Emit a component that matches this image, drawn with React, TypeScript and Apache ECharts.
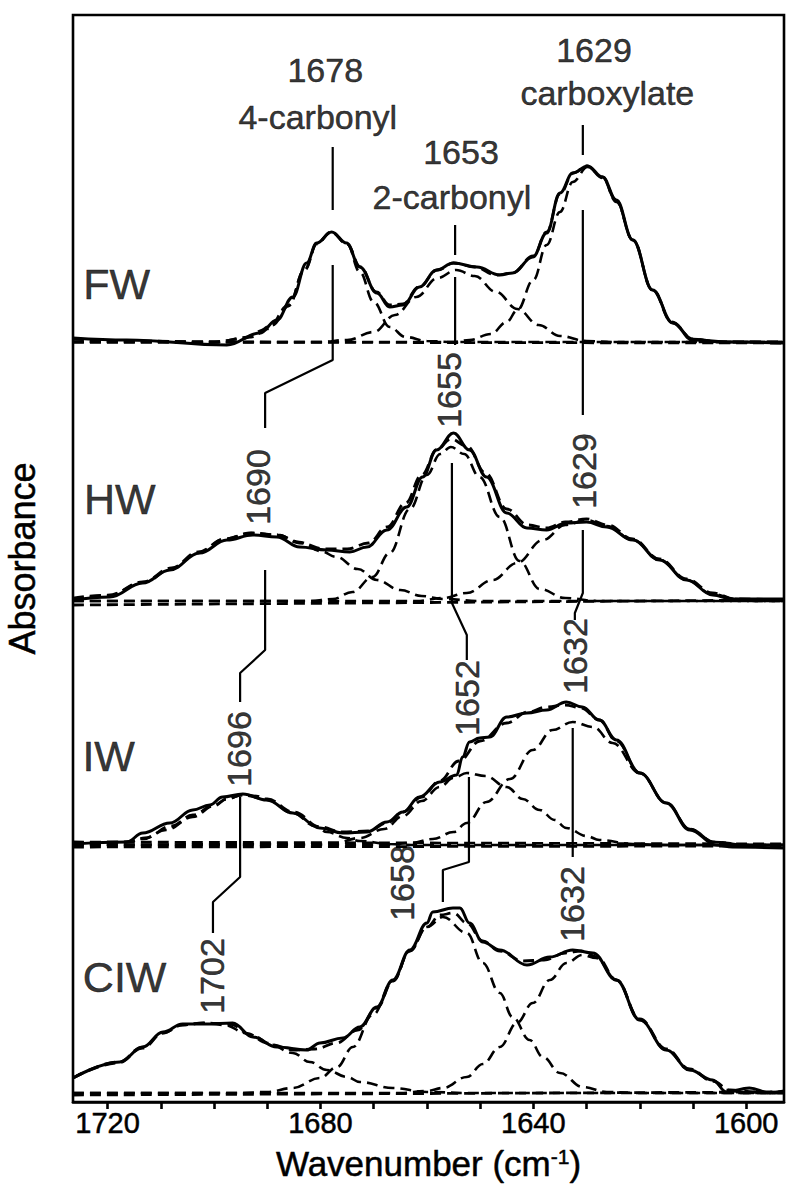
import { useEffect, useRef } from "react";
import * as echarts from "echarts";

// ---------- axis ----------
const xMin = 1592.9;
const xMax = 1726.5;
const xTickValues = [1600, 1610, 1620, 1630, 1640, 1650, 1660, 1670, 1680, 1690, 1700, 1710, 1720];
const xLabelValues = [1600, 1640, 1680, 1720];
const yMax = 10.87;

// vertical offsets of each trace (absorbance units, baseline positions)
const offsetFW = 7.6;
const offsetHW = 5.01;
const offsetIW = 2.57;
const offsetCIW = 0.09;

// ---------- FW ----------
const fwMeasured = [[1726.5,0.04],[1716.4,0.02],[1697.6,-0.03],[1691.4,0.09],[1688.2,0.22],[1685.2,0.45],[1682.6,0.79],[1680.7,0.99],[1677.9,1.10],[1675.1,0.99],[1672.6,0.75],[1669.4,0.49],[1667.0,0.35],[1664.5,0.37],[1661.4,0.55],[1658.2,0.72],[1655.0,0.79],[1650.6,0.75],[1646.3,0.67],[1643.9,0.69],[1640.1,0.85],[1637.5,1.09],[1635.0,1.49],[1632.6,1.69],[1629.8,1.76],[1627.0,1.65],[1624.4,1.42],[1621.3,1.02],[1617.6,0.52],[1613.8,0.19],[1610.1,0.02],[1602.6,0.0],[1592.9,-0.01]];
const fwFit = [[1726.5,0.03],[1715,0.01],[1700,0.0],[1693,0.05],[1689,0.17],[1686,0.36],[1683,0.72],[1680.5,1.0],[1678,1.10],[1675,0.98],[1672.5,0.75],[1669.5,0.50],[1667,0.37],[1664.5,0.38],[1661.5,0.55],[1658,0.72],[1655,0.79],[1651,0.75],[1647,0.67],[1644,0.69],[1640,0.86],[1637.5,1.10],[1635,1.48],[1632.5,1.69],[1630,1.76],[1627,1.65],[1624.5,1.42],[1621.3,1.02],[1617.6,0.52],[1614,0.20],[1610,0.03],[1605,0.0],[1592.9,0.0]];
const fw1678 = [[1726.5,0.0],[1700,0.0],[1695,0.03],[1690,0.13],[1686,0.37],[1683,0.72],[1680.7,0.98],[1678,1.10],[1675,0.98],[1672.6,0.70],[1670,0.40],[1667,0.15],[1664,0.05],[1660,0.01],[1655,0.0],[1592.9,0.0]];
const fw1653 = [[1726.5,0.0],[1680,0.0],[1675,0.02],[1670,0.10],[1666,0.27],[1662,0.45],[1658,0.64],[1654.5,0.72],[1651,0.66],[1647,0.50],[1643,0.33],[1639,0.17],[1635,0.06],[1630,0.01],[1625,0.0],[1592.9,0.0]];
const fw1629 = [[1726.5,0.0],[1655,0.0],[1652,0.02],[1648,0.08],[1645,0.20],[1643,0.32],[1640,0.62],[1637.5,0.97],[1635,1.30],[1632.6,1.60],[1629.8,1.75],[1627,1.64],[1624.4,1.40],[1621.3,1.02],[1617.6,0.52],[1613.8,0.19],[1610,0.03],[1605,0.0],[1592.9,0.0]];
const fwBaseline = [[1726.5,0.0],[1592.9,-0.01]];

// ---------- HW ----------
const hwMeasured = [[1726.5,0.01],[1719.6,0.04],[1713.4,0.18],[1708.3,0.31],[1702.7,0.48],[1697.6,0.61],[1692.7,0.66],[1688.2,0.64],[1683.9,0.54],[1678.8,0.51],[1674.5,0.49],[1671.3,0.54],[1667.5,0.71],[1663.8,0.94],[1660.8,1.24],[1658.2,1.51],[1655.0,1.68],[1652.0,1.51],[1648.8,1.24],[1645.0,0.88],[1641.2,0.73],[1637.5,0.71],[1633.8,0.78],[1630.0,0.79],[1626.2,0.74],[1621.3,0.61],[1616.3,0.41],[1611.2,0.21],[1606.3,0.06],[1602.6,0.02],[1592.9,0.02]];
const hwFit = [[1726.5,0.02],[1720,0.05],[1713.4,0.19],[1708,0.33],[1703,0.49],[1698,0.62],[1693,0.68],[1688,0.66],[1684,0.58],[1679,0.52],[1675,0.52],[1671,0.58],[1667.5,0.74],[1664,0.98],[1661,1.26],[1658,1.52],[1655.5,1.62],[1652.5,1.55],[1649,1.28],[1645,0.92],[1641,0.76],[1637.5,0.73],[1634,0.79],[1630,0.82],[1626,0.76],[1621.3,0.62],[1616.3,0.42],[1611.2,0.22],[1606.3,0.08],[1602,0.02],[1592.9,0.01]];
const hw1690 = [[1726.5,0.03],[1720,0.06],[1713,0.19],[1708,0.32],[1703,0.48],[1698,0.62],[1693,0.68],[1688,0.66],[1684,0.59],[1680,0.50],[1677,0.44],[1673,0.32],[1669.4,0.21],[1665,0.11],[1661,0.05],[1657,0.02],[1650,0.0],[1592.9,0.0]];
const hw1655 = [[1726.5,0.0],[1682,0.0],[1677.7,0.02],[1674,0.09],[1670.2,0.24],[1667,0.48],[1663.2,0.92],[1660,1.26],[1657.5,1.47],[1655.5,1.54],[1653,1.47],[1650.1,1.24],[1646.3,0.84],[1642.6,0.40],[1638.8,0.12],[1634,0.03],[1628,0.0],[1592.9,0.0]];
const hw1629 = [[1726.5,0.0],[1662,0.0],[1657,0.03],[1652.5,0.08],[1647.6,0.21],[1643.1,0.38],[1638.2,0.61],[1634,0.76],[1630,0.81],[1626.2,0.75],[1621.3,0.61],[1616.3,0.41],[1611.2,0.21],[1606.3,0.07],[1602,0.02],[1598,0.0],[1592.9,0.0]];
const hwBaseline = [[1726.5,-0.04],[1592.9,0.01]];

// ---------- IW ----------
const iwMeasured = [[1726.5,0.01],[1716.4,0.03],[1713.4,0.12],[1708.3,0.22],[1704.0,0.35],[1700.8,0.40],[1698.4,0.48],[1694.6,0.51],[1690.1,0.45],[1685.2,0.32],[1680.1,0.17],[1675.8,0.12],[1671.3,0.13],[1667.5,0.23],[1664.5,0.33],[1661.4,0.48],[1657.6,0.63],[1654.4,0.70],[1653.3,0.88],[1652.0,1.03],[1650.1,1.07],[1648.2,1.08],[1645.0,1.28],[1641.2,1.32],[1637.5,1.35],[1633.8,1.43],[1630.8,1.38],[1627.6,1.25],[1624.4,1.05],[1620.0,0.72],[1615.0,0.42],[1610.6,0.15],[1605.6,0.0],[1602.6,-0.02],[1592.9,-0.03]];
const iwFit = [[1726.5,0.02],[1716,0.03],[1713,0.07],[1708,0.19],[1704,0.30],[1700,0.40],[1697.6,0.46],[1694.8,0.50],[1690,0.46],[1685,0.33],[1680,0.18],[1676,0.13],[1671,0.14],[1667.5,0.22],[1664.5,0.33],[1661,0.48],[1657.6,0.64],[1654,0.84],[1650,1.04],[1645,1.22],[1641,1.33],[1637.5,1.38],[1634,1.40],[1631,1.37],[1627.6,1.25],[1624.4,1.04],[1620,0.72],[1615,0.42],[1610.6,0.16],[1606,0.03],[1600,0.0],[1592.9,0.0]];
const iw1696 = [[1726.5,0.01],[1718,0.02],[1713.4,0.06],[1709,0.15],[1704,0.28],[1700,0.39],[1697.6,0.46],[1694.8,0.50],[1692,0.49],[1690,0.45],[1685.2,0.32],[1681,0.19],[1678.8,0.13],[1675,0.07],[1672.6,0.04],[1667,0.01],[1662,0.0],[1592.9,0.0]];
const iw1652 = [[1726.5,0.0],[1678,0.01],[1672.6,0.07],[1668,0.16],[1664.5,0.29],[1661,0.44],[1657.6,0.58],[1655,0.67],[1652.5,0.72],[1649,0.69],[1645,0.58],[1642,0.46],[1638.8,0.35],[1636,0.25],[1633.8,0.17],[1630,0.09],[1627.6,0.05],[1621.3,0.01],[1615,0.0],[1592.9,0.0]];
const iw1632 = [[1726.5,0.0],[1668,0.0],[1663,0.02],[1658.9,0.06],[1655,0.13],[1652.5,0.22],[1648.8,0.43],[1644.4,0.66],[1640.1,0.95],[1636.4,1.15],[1632.6,1.23],[1628.8,1.18],[1625.1,1.02],[1620,0.72],[1615,0.42],[1610.6,0.16],[1606,0.03],[1600,0.0],[1592.9,0.0]];
const iwBaselineA = [[1726.5,0.03],[1592.9,0.01]];
const iwBaselineB = [[1726.5,-0.02],[1592.9,-0.01]];

// ---------- CIW ----------
const ciwMeasured = [[1726.5,0.15],[1717.7,0.31],[1713.4,0.46],[1709.6,0.61],[1705.9,0.69],[1701.4,0.69],[1696.5,0.70],[1692.7,0.56],[1688.2,0.46],[1682.6,0.43],[1680.1,0.50],[1675.8,0.55],[1672.6,0.66],[1669.4,0.86],[1666.4,1.13],[1663.2,1.43],[1660.0,1.70],[1658.9,1.81],[1655.1,1.85],[1653.8,1.85],[1652.0,1.70],[1649.5,1.51],[1646.3,1.43],[1641.2,1.28],[1636.9,1.36],[1632.6,1.43],[1628.8,1.40],[1624.4,1.13],[1620.0,0.73],[1615.0,0.43],[1610.6,0.23],[1606.3,0.13],[1603.7,0.01],[1599.4,0.05],[1595.6,0.0],[1592.9,0.02]];
const ciwFit = [[1726.5,0.15],[1718,0.30],[1713.4,0.45],[1709.6,0.60],[1706,0.68],[1702,0.70],[1697,0.69],[1693,0.58],[1689,0.48],[1685,0.43],[1681,0.44],[1677,0.50],[1673,0.63],[1669.4,0.85],[1666.4,1.12],[1663.2,1.42],[1660,1.66],[1657.5,1.78],[1655,1.80],[1652.5,1.70],[1649.5,1.52],[1646.3,1.42],[1642,1.32],[1638,1.33],[1634,1.40],[1631,1.42],[1628,1.36],[1624.4,1.13],[1620,0.74],[1615,0.44],[1610.6,0.24],[1606.3,0.12],[1603,0.03],[1598,0.01],[1592.9,0.01]];
const ciw1702 = [[1726.5,0.15],[1718,0.31],[1713.4,0.46],[1709.6,0.60],[1705.9,0.68],[1702,0.70],[1698,0.68],[1694,0.60],[1690,0.50],[1685.2,0.40],[1682,0.31],[1678.8,0.23],[1675,0.16],[1672.6,0.11],[1666.4,0.05],[1660,0.01],[1652,0.0],[1592.9,0.0]];
const ciw1658 = [[1726.5,0.0],[1695,0.0],[1690,0.01],[1685.2,0.05],[1680.1,0.15],[1676.9,0.26],[1673.9,0.46],[1670.2,0.78],[1666.4,1.12],[1663.2,1.42],[1660,1.66],[1657,1.76],[1652.5,1.60],[1649.5,1.30],[1646.3,1.00],[1643.9,0.76],[1640.7,0.53],[1638.2,0.36],[1635,0.20],[1630.7,0.06],[1626.2,0.01],[1620,0.0],[1592.9,0.0]];
const ciw1632 = [[1726.5,0.0],[1665,0.0],[1660,0.02],[1657,0.05],[1652.5,0.16],[1649.5,0.29],[1646.3,0.46],[1643.1,0.70],[1640.1,0.90],[1636.9,1.13],[1633.8,1.30],[1630.8,1.38],[1628.2,1.35],[1624.4,1.13],[1620,0.73],[1615,0.43],[1610.6,0.23],[1606.3,0.12],[1603.7,0.03],[1600,0.0],[1592.9,0.0]];
const ciwBaseline = [[1726.5,-0.02],[1592.9,0.01]];

// ---------- peak leader lines (absolute coordinates) ----------
const leaders = [
  [[1677.7,9.55],[1677.7,8.92]],
  [[1677.7,8.37],[1677.7,7.42],[1690.4,7.09],[1690.4,6.74]],
  [[1654.7,8.77],[1654.7,8.47]],
  [[1654.7,8.25],[1654.7,7.57]],
  [[1630.7,9.77],[1630.7,9.47]],
  [[1630.7,8.92],[1630.7,6.87]],
  [[1690.4,5.32],[1690.4,4.52],[1695.1,4.29],[1695.1,4.00]],
  [[1655.3,6.39],[1655.3,4.99],[1652.5,4.67],[1652.5,4.42]],
  [[1630.7,5.72],[1630.7,5.09],[1632.2,4.89],[1632.2,4.82]],
  [[1695.1,3.05],[1695.1,2.25],[1700.2,2.00],[1700.2,1.69]],
  [[1652.1,3.25],[1652.1,2.40],[1657.0,2.32],[1657.0,2.00]],
  [[1632.6,3.74],[1632.6,2.45]],
];

// ---------- text annotations ----------
const peakTexts = [
  { text: "1678", at: [1679.1, 10.32], rot: 0 },
  { text: "4-carbonyl", at: [1680.5, 9.85], rot: 0 },
  { text: "1653", at: [1653.6, 9.5], rot: 0 },
  { text: "2-carbonyl", at: [1655.3, 9.05], rot: 0 },
  { text: "1629", at: [1628.6, 10.52], rot: 0 },
  { text: "carboxylate", at: [1626.1, 10.09], rot: 0 },
  { text: "1690", at: [1691.7, 6.15], rot: 90 },
  { text: "1655", at: [1655.8, 7.12], rot: 90 },
  { text: "1629", at: [1630.4, 6.31], rot: 90 },
  { text: "1696", at: [1695.3, 3.53], rot: 90 },
  { text: "1652", at: [1652.5, 4.04], rot: 90 },
  { text: "1632", at: [1632.2, 4.46], rot: 90 },
  { text: "1702", at: [1700.3, 1.26], rot: 90 },
  { text: "1658", at: [1664.6, 2.19], rot: 90 },
  { text: "1632", at: [1632.8, 1.98], rot: 90 },
];
const sampleTexts = [
  { text: "FW", at: [1718.3, 8.18] },
  { text: "HW", at: [1717.7, 6.03] },
  { text: "IW", at: [1719.8, 3.46] },
  { text: "CIW", at: [1716.8, 1.25] },
];

const FONT = "'Liberation Sans', Arial, Helvetica, sans-serif";
const DASH = [11, 6];
const INK = { color: "#000", textBorderColor: "#000", textBorderWidth: 0.5 };

function shift(data: number[][], off: number) {
  return data.map(([x, y]) => [x, +(y + off).toFixed(3)]);
}

function solid(data: number[][], off: number) {
  return {
    type: "line", data: shift(data, off), showSymbol: false, symbol: "none",
    smooth: 0.4, smoothMonotone: "x", silent: true, z: 4,
    lineStyle: { color: "#000", width: 3 },
  };
}
function dashed(data: number[][], off: number, width = 2.6) {
  return {
    type: "line", data: shift(data, off), showSymbol: false, symbol: "none",
    smooth: 0.4, smoothMonotone: "x", silent: true, z: 3,
    lineStyle: { color: "#000", width, type: DASH },
  };
}

export default function App() {
  const ref = useRef<HTMLDivElement>(null);
  useEffect(() => {
    if (!ref.current) return;
    const chart = echarts.init(ref.current, null, { renderer: "svg" });
    const series: any[] = [];
    const groups: [number[][], number[][], number[][][], number[][][], number][] = [
      [fwMeasured, fwFit, [fw1678, fw1653, fw1629], [fwBaseline], offsetFW],
      [hwMeasured, hwFit, [hw1690, hw1655, hw1629], [hwBaseline], offsetHW],
      [iwMeasured, iwFit, [iw1696, iw1652, iw1632], [iwBaselineA, iwBaselineB], offsetIW],
      [ciwMeasured, ciwFit, [ciw1702, ciw1658, ciw1632], [ciwBaseline], offsetCIW],
    ];
    groups.forEach(([m, f, comps, bases, off]) => {
      bases.forEach((b) => series.push(dashed(b, off, 2.8)));
      comps.forEach((c) => series.push(dashed(c, off, 2.6)));
      series.push(dashed(f, off, 2.8));
      series.push(solid(m, off));
    });
    leaders.forEach((l) => {
      series.push({
        type: "line", data: l, showSymbol: false, symbol: "none", smooth: false,
        silent: true, z: 5, lineStyle: { color: "#000", width: 2.2 },
      });
    });
    series.push({
      type: "scatter", symbolSize: 0, silent: true, z: 6,
      data: peakTexts.map((t) => ({
        value: t.at,
        label: { show: true, formatter: t.text, rotate: t.rot, position: "inside",
          fontSize: 34, fontFamily: FONT, ...INK },
      })),
    });
    series.push({
      type: "scatter", symbolSize: 0, silent: true, z: 6,
      data: sampleTexts.map((t) => ({
        value: t.at,
        label: { show: true, formatter: t.text, position: "inside",
          fontSize: 43, fontFamily: FONT, ...INK },
      })),
    });

    chart.setOption({
      animation: false,
      backgroundColor: "#fff",
      grid: { left: 73, right: 16, top: 15, bottom: 95, show: true, borderColor: "#000", borderWidth: 2.6,
        containLabel: false, outerBoundsMode: "none" },
      xAxis: {
        type: "value", inverse: true, min: xMin, max: xMax,
        name: "Wavenumber (cm{sup|-1})", nameLocation: "middle", nameGap: 44,
        nameTextStyle: { fontSize: 35, fontFamily: FONT, ...INK,
          rich: { sup: { fontSize: 21, verticalAlign: "top", fontFamily: FONT, ...INK } } },
        axisLine: { show: true, lineStyle: { color: "#000", width: 2.6 } },
        axisTick: { show: true, inside: false, length: 7, customValues: xTickValues, lineStyle: { color: "#000", width: 2.6 } },
        axisLabel: { show: true, customValues: xLabelValues, margin: 6, fontSize: 29, fontFamily: FONT, ...INK,
          formatter: (v: number) => String(Math.round(v)) },
        splitLine: { show: false },
      },
      yAxis: {
        type: "value", min: 0, max: yMax,
        name: "Absorbance", nameLocation: "middle", nameGap: 33,
        nameTextStyle: { fontSize: 36, fontFamily: FONT, ...INK },
        axisLine: { show: false }, axisTick: { show: false }, axisLabel: { show: false }, splitLine: { show: false },
      },
      series,
    });
    return () => chart.dispose();
  }, []);
  return <div ref={ref} style={{ position: "absolute", left: 0, top: 0, width: 800, height: 1197 }} />;
}
